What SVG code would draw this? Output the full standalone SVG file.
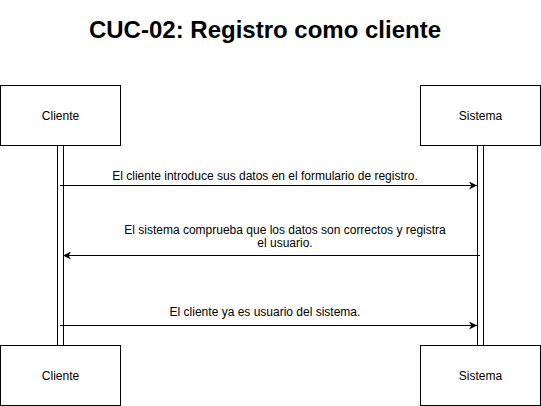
<svg xmlns="http://www.w3.org/2000/svg" width="541" height="406" viewBox="0 0 541 406">
<style>
.box{fill:#fff;stroke:#000;stroke-width:1}
.act{fill:#fff;stroke:#000;stroke-width:1}
.lbl{font-family:"Liberation Sans",Arial,sans-serif;font-size:12px;fill:#000;text-anchor:middle}
.msg{stroke:#000;stroke-width:1;fill:none}
.title{font-family:"Liberation Sans",Arial,sans-serif;font-size:24px;font-weight:bold;fill:#000;text-anchor:middle}
</style>
<defs>
<marker id="ah" viewBox="0 0 10 10" refX="10" refY="5" markerWidth="8" markerHeight="8" markerUnits="userSpaceOnUse" orient="auto">
<path d="M0,0 L10,5 L0,10 L3,5 Z" fill="#000"/>
</marker>
</defs>
<rect width="541" height="406" fill="#fff"/>
<text class="title" x="265" y="38">CUC-02: Registro como cliente</text>
<g id="lifeline-cliente">
<rect class="act" x="57.5" y="145.5" width="6" height="200"/>
</g>
<g id="lifeline-sistema">
<rect class="act" x="477.5" y="145.5" width="6" height="200"/>
</g>
<g id="cliente-top">
<rect class="box" x="0.5" y="85.5" width="120" height="60"/>
<text class="lbl" x="60.5" y="119.5">Cliente</text>
</g>
<g id="sistema-top">
<rect class="box" x="420.5" y="85.5" width="120" height="60"/>
<text class="lbl" x="480.5" y="119.5">Sistema</text>
</g>
<g id="cliente-bottom">
<rect class="box" x="0.5" y="345.5" width="120" height="60"/>
<text class="lbl" x="60.5" y="379.5">Cliente</text>
</g>
<g id="sistema-bottom">
<rect class="box" x="420.5" y="345.5" width="120" height="60"/>
<text class="lbl" x="480.5" y="379.5">Sistema</text>
</g>
<g id="connectors">
<line class="msg" x1="60" y1="185.5" x2="477" y2="185.5" marker-end="url(#ah)"/>
<text class="lbl" x="265" y="179.5">El cliente introduce sus datos en el formulario de registro.</text>
<line class="msg" x1="480" y1="255.5" x2="63" y2="255.5" marker-end="url(#ah)"/>
<text class="lbl" x="285" y="233.5">El sistema comprueba que los datos son correctos y registra</text>
<text class="lbl" x="285" y="246.5">el usuario.</text>
<line class="msg" x1="60" y1="325.5" x2="477" y2="325.5" marker-end="url(#ah)"/>
<text class="lbl" x="265" y="316">El cliente ya es usuario del sistema.</text>
</g>
</svg>
